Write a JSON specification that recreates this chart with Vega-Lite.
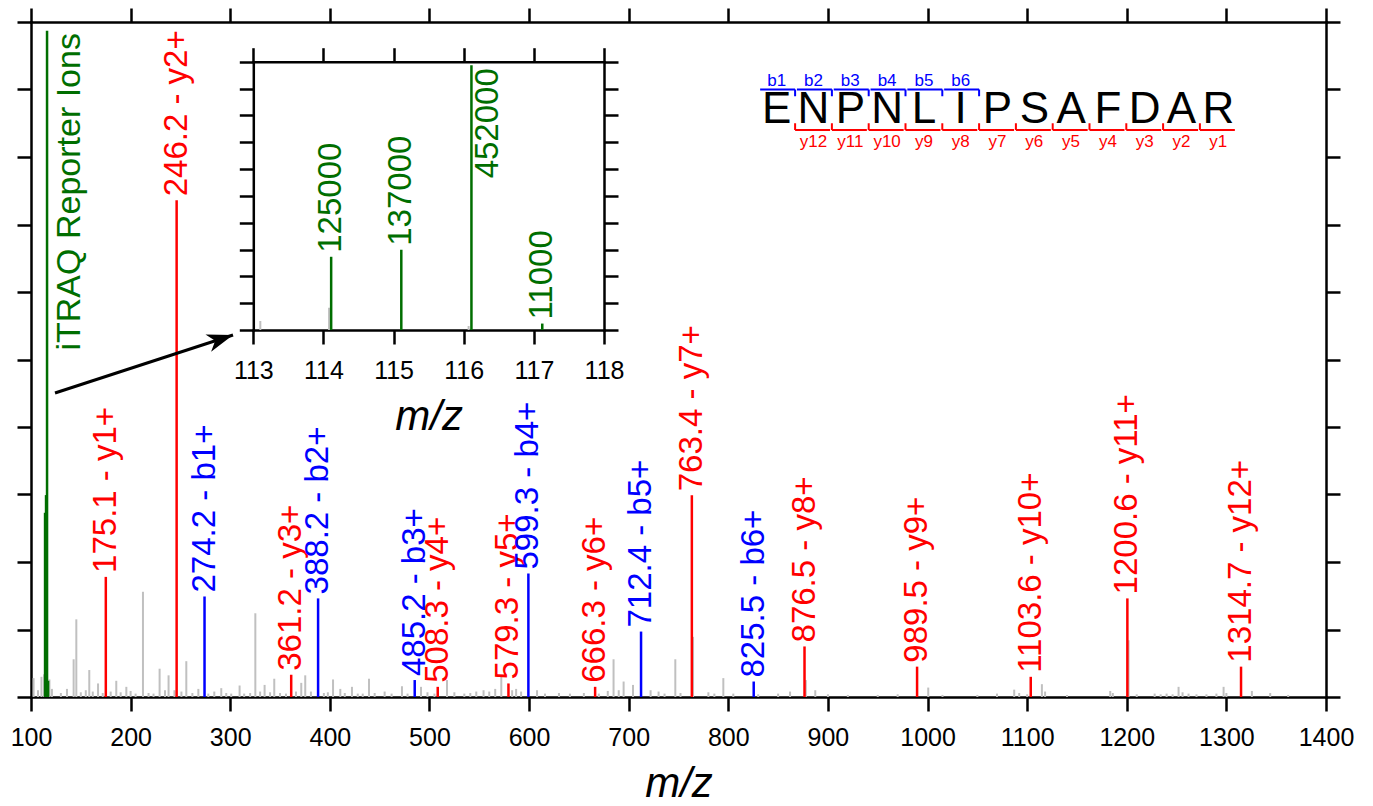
{
  "$schema": "https://vega.github.io/schema/vega-lite/v6.json",
  "width": 1295,
  "height": 675,
  "autosize": {"type": "none"},
  "padding": {"left": 31, "top": 22, "right": 47, "bottom": 109},
  "background": "white",
  "config": {
    "view": {"stroke": null},
    "font": "Liberation Sans",
    "axis": {
      "domainColor": "black", "domainWidth": 2.5, "domainCap": "square",
      "tickColor": "black", "tickWidth": 2.5, "tickSize": 14,
      "labelFont": "Liberation Sans", "labelFontSize": 25, "labelColor": "black", "labelPadding": 14,
      "labelFlush": false, "labelOverlap": false, "grid": false,
      "titleFont": "Liberation Sans", "titleFontSize": 42, "titleFontStyle": "italic", "titleFontWeight": "normal",
      "titleColor": "black", "titlePadding": 13
    },
    "text": {"font": "Liberation Sans"}
  },
  "datasets": {
    "noise": [
      {"mz":102.6,"intensity":12800},{"mz":107,"intensity":4600},{"mz":110.5,"intensity":13700},{"mz":113.1,"intensity":15400},
      {"mz":114.08,"intensity":38000},{"mz":116.07,"intensity":6800},{"mz":118.5,"intensity":11900},{"mz":121,"intensity":5500},
      {"mz":130,"intensity":2700},{"mz":136.1,"intensity":5500},{"mz":142.8,"intensity":25600},{"mz":145.5,"intensity":52700},
      {"mz":150,"intensity":3200},{"mz":155,"intensity":4600},{"mz":158.5,"intensity":18300},{"mz":162,"intensity":3700},
      {"mz":167.3,"intensity":9200},{"mz":172,"intensity":2700},{"mz":180,"intensity":3700},{"mz":185.6,"intensity":11000},
      {"mz":190,"intensity":3200},{"mz":195.7,"intensity":6900},{"mz":200,"intensity":4100},{"mz":205,"intensity":2300},
      {"mz":212.4,"intensity":71400},{"mz":218,"intensity":2700},{"mz":223,"intensity":2300},{"mz":229.1,"intensity":19200},
      {"mz":234.5,"intensity":4600},{"mz":238.1,"intensity":14700},{"mz":244,"intensity":4600},{"mz":251,"intensity":3700},
      {"mz":255.9,"intensity":24300},{"mz":262,"intensity":2700},{"mz":268,"intensity":5500},{"mz":278,"intensity":2300},
      {"mz":284,"intensity":3700},{"mz":291,"intensity":6000},{"mz":296,"intensity":2700},{"mz":301,"intensity":2300},
      {"mz":309.4,"intensity":7800},{"mz":314,"intensity":2300},{"mz":320,"intensity":2700},{"mz":325.2,"intensity":56800},
      {"mz":330,"intensity":3700},{"mz":334.5,"intensity":8200},{"mz":340,"intensity":3200},{"mz":344.2,"intensity":12400},
      {"mz":350,"intensity":2700},{"mz":356,"intensity":2300},{"mz":366,"intensity":3700},{"mz":371.3,"intensity":9600},
      {"mz":375.3,"intensity":14700},{"mz":381,"intensity":3700},{"mz":394,"intensity":2700},{"mz":398,"intensity":3200},
      {"mz":403.2,"intensity":11900},{"mz":410.5,"intensity":5500},{"mz":415,"intensity":2700},{"mz":422.2,"intensity":6900},
      {"mz":428,"intensity":2300},{"mz":433,"intensity":2300},{"mz":439.3,"intensity":12400},{"mz":445,"intensity":2700},
      {"mz":455,"intensity":3700},{"mz":462,"intensity":2300},{"mz":472.4,"intensity":7300},{"mz":478,"intensity":2300},
      {"mz":491.5,"intensity":6900},{"mz":498,"intensity":3200},{"mz":505,"intensity":2300},{"mz":517.6,"intensity":11500},
      {"mz":525,"intensity":3200},{"mz":535,"intensity":2300},{"mz":541,"intensity":2700},{"mz":547,"intensity":3700},
      {"mz":554.3,"intensity":4600},{"mz":560,"intensity":3700},{"mz":566,"intensity":5500},{"mz":572.1,"intensity":14000},
      {"mz":583,"intensity":4600},{"mz":587,"intensity":5500},{"mz":592,"intensity":3700},{"mz":608,"intensity":4600},
      {"mz":616,"intensity":2300},{"mz":630,"intensity":2700},{"mz":641,"intensity":2300},{"mz":655,"intensity":2700},
      {"mz":670,"intensity":2300},{"mz":679,"intensity":4100},{"mz":684.8,"intensity":25600},{"mz":690,"intensity":4600},
      {"mz":694.9,"intensity":10500},{"mz":704.3,"intensity":8200},{"mz":722,"intensity":4600},{"mz":730,"intensity":3700},
      {"mz":736,"intensity":2300},{"mz":746.8,"intensity":25600},{"mz":752,"intensity":2700},{"mz":764.6,"intensity":40800},
      {"mz":780,"intensity":3200},{"mz":786,"intensity":2300},{"mz":795,"intensity":12800},{"mz":805,"intensity":2300},
      {"mz":830,"intensity":1800},{"mz":850,"intensity":2300},{"mz":862,"intensity":3700},{"mz":877.8,"intensity":11500},
      {"mz":887.3,"intensity":4600},{"mz":900,"intensity":1800},{"mz":920,"intensity":1400},{"mz":950,"intensity":1400},
      {"mz":970,"intensity":1800},{"mz":1000.7,"intensity":6400},{"mz":1015,"intensity":1400},{"mz":1050,"intensity":1400},
      {"mz":1069.7,"intensity":2300},{"mz":1087,"intensity":5000},{"mz":1092,"intensity":2700},{"mz":1100,"intensity":1800},
      {"mz":1114.8,"intensity":8700},{"mz":1118,"intensity":3700},{"mz":1140,"intensity":1400},{"mz":1183.4,"intensity":4100},
      {"mz":1186,"intensity":2700},{"mz":1201.8,"intensity":38500},{"mz":1210,"intensity":1800},{"mz":1228,"intensity":2300},
      {"mz":1234,"intensity":1800},{"mz":1240,"intensity":2300},{"mz":1246,"intensity":1800},{"mz":1252,"intensity":6900},
      {"mz":1256,"intensity":3200},{"mz":1262,"intensity":2300},{"mz":1270,"intensity":1800},{"mz":1280,"intensity":1800},
      {"mz":1290,"intensity":2300},{"mz":1297.2,"intensity":6900},{"mz":1300,"intensity":2700},{"mz":1325.6,"intensity":4100},
      {"mz":1344,"intensity":2700},{"mz":1362,"intensity":1400}
    ],
    "fragments": [
      {"mz":175.1,"intensity":81500,"series":"y","label":"175.1 - y1+"},
      {"mz":246.2,"intensity":337000,"series":"y","label":"246.2 - y2+"},
      {"mz":274.2,"intensity":68200,"series":"b","label":"274.2 - b1+"},
      {"mz":361.2,"intensity":15100,"series":"y","label":"361.2 - y3+"},
      {"mz":388.2,"intensity":66900,"series":"b","label":"388.2 - b2+"},
      {"mz":485.2,"intensity":11500,"series":"b","label":"485.2 - b3+"},
      {"mz":508.3,"intensity":6900,"series":"y","label":"508.3 - y4+"},
      {"mz":579.3,"intensity":9200,"series":"y","label":"579.3 - y5+"},
      {"mz":599.3,"intensity":83800,"series":"b","label":"599.3 - b4+"},
      {"mz":666.3,"intensity":6900,"series":"y","label":"666.3 - y6+"},
      {"mz":712.4,"intensity":44400,"series":"b","label":"712.4 - b5+"},
      {"mz":763.4,"intensity":136900,"series":"y","label":"763.4 - y7+"},
      {"mz":825.5,"intensity":10500,"series":"b","label":"825.5 - b6+"},
      {"mz":876.5,"intensity":34300,"series":"y","label":"876.5 - y8+"},
      {"mz":989.5,"intensity":20600,"series":"y","label":"989.5 - y9+"},
      {"mz":1103.6,"intensity":13700,"series":"y","label":"1103.6 - y10+"},
      {"mz":1200.6,"intensity":66900,"series":"y","label":"1200.6 - y11+"},
      {"mz":1314.7,"intensity":20600,"series":"y","label":"1314.7 - y12+"}
    ],
    "reporter": [
      {"mz":114.11,"intensity":125000,"label":"125000"},
      {"mz":115.11,"intensity":137000,"label":"137000"},
      {"mz":116.11,"intensity":452000,"label":"452000"},
      {"mz":117.12,"intensity":11000,"label":"11000"}
    ],
    "annot": [
      {"text":"iTRAQ Reporter Ions","mz":139.2,"intensity":450500}
    ],
    "arrow": [
      {"mz":124.1,"intensity":206300,"mz2":302.8,"intensity2":245600}
    ],
    "sequence": [
      {"pos":1,"aa":"E"},{"pos":2,"aa":"N"},{"pos":3,"aa":"P"},{"pos":4,"aa":"N"},{"pos":5,"aa":"L"},
      {"pos":6,"aa":"I"},{"pos":7,"aa":"P"},{"pos":8,"aa":"S"},{"pos":9,"aa":"A"},{"pos":10,"aa":"F"},
      {"pos":11,"aa":"D"},{"pos":12,"aa":"A"},{"pos":13,"aa":"R"}
    ],
    "brackets": [
      {"ion":"b1","series":"b","pos":1,"from":0.55,"to":1.5},
      {"ion":"b2","series":"b","pos":2,"from":1.55,"to":2.5},
      {"ion":"b3","series":"b","pos":3,"from":2.55,"to":3.5},
      {"ion":"b4","series":"b","pos":4,"from":3.55,"to":4.5},
      {"ion":"b5","series":"b","pos":5,"from":4.55,"to":5.5},
      {"ion":"b6","series":"b","pos":6,"from":5.55,"to":6.5},
      {"ion":"y12","series":"y","pos":2,"from":1.5,"to":2.45},
      {"ion":"y11","series":"y","pos":3,"from":2.5,"to":3.45},
      {"ion":"y10","series":"y","pos":4,"from":3.5,"to":4.45},
      {"ion":"y9","series":"y","pos":5,"from":4.5,"to":5.45},
      {"ion":"y8","series":"y","pos":6,"from":5.5,"to":6.45},
      {"ion":"y7","series":"y","pos":7,"from":6.5,"to":7.45},
      {"ion":"y6","series":"y","pos":8,"from":7.5,"to":8.45},
      {"ion":"y5","series":"y","pos":9,"from":8.5,"to":9.45},
      {"ion":"y4","series":"y","pos":10,"from":9.5,"to":10.45},
      {"ion":"y3","series":"y","pos":11,"from":10.5,"to":11.45},
      {"ion":"y2","series":"y","pos":12,"from":11.5,"to":12.45},
      {"ion":"y1","series":"y","pos":13,"from":12.5,"to":13.45}
    ]
  },
  "layer": [
    {
      "layer": [
        {
          "data": {"name": "noise"},
          "mark": {"type": "rule", "color": "#c0c0c0", "strokeWidth": 2},
          "encoding": {
            "x": {"field": "mz", "type": "quantitative", "scale": {"domain": [100, 1400], "nice": false, "zero": false},
                  "axis": {"orient": "bottom", "values": [100,200,300,400,500,600,700,800,900,1000,1100,1200,1300,1400], "format": "d", "title": "m/z"}},
            "y": {"field": "intensity", "type": "quantitative", "scale": {"domain": [0, 458000], "nice": false},
                  "axis": {"orient": "left", "values": [0,45800,91600,137400,183200,229000,274800,320600,366400,412200,458000], "labels": false, "title": null}},
            "y2": {"datum": 0}
          }
        },
        {
          "data": {"name": "reporter"},
          "mark": {"type": "rule", "color": "#006e00", "strokeWidth": 2.5},
          "encoding": {
            "x": {"field": "mz", "type": "quantitative",
                  "axis": {"orient": "top", "values": [100,200,300,400,500,600,700,800,900,1000,1100,1200,1300,1400], "labels": false, "title": null}},
            "y": {"field": "intensity", "type": "quantitative",
                  "axis": {"orient": "right", "values": [0,45800,91600,137400,183200,229000,274800,320600,366400,412200,458000], "labels": false, "title": null}},
            "y2": {"datum": 0}
          }
        },
        {
          "data": {"name": "fragments"},
          "mark": {"type": "rule", "strokeWidth": 2.5},
          "encoding": {
            "x": {"field": "mz", "type": "quantitative", "axis": null},
            "y": {"field": "intensity", "type": "quantitative", "axis": null},
            "y2": {"datum": 0},
            "color": {"field": "series", "type": "nominal", "scale": {"domain": ["b", "y"], "range": ["#0000ff", "#ff0000"]}, "legend": null}
          }
        },
        {
          "data": {"name": "fragments"},
          "mark": {"type": "text", "angle": 270, "align": "left", "baseline": "middle", "dx": 4, "fontSize": 33},
          "encoding": {
            "x": {"field": "mz", "type": "quantitative", "axis": null},
            "y": {"field": "intensity", "type": "quantitative", "axis": null},
            "text": {"field": "label"},
            "color": {"field": "series", "type": "nominal", "scale": {"domain": ["b", "y"], "range": ["#0000ff", "#ff0000"]}, "legend": null}
          }
        },
        {
          "data": {"name": "annot"},
          "mark": {"type": "text", "angle": 270, "align": "right", "baseline": "middle", "fontSize": 34, "color": "#006e00"},
          "encoding": {
            "x": {"field": "mz", "type": "quantitative", "axis": null},
            "y": {"field": "intensity", "type": "quantitative", "axis": null},
            "text": {"field": "text"}
          }
        },
        {
          "data": {"name": "arrow"},
          "mark": {"type": "rule", "color": "black", "strokeWidth": 3},
          "encoding": {
            "x": {"field": "mz", "type": "quantitative", "axis": null},
            "y": {"field": "intensity", "type": "quantitative", "axis": null},
            "x2": {"field": "mz2"},
            "y2": {"field": "intensity2"}
          }
        },
        {
          "data": {"name": "arrow"},
          "mark": {"type": "point", "shape": "M0,0 L-1,-0.35 L-0.72,0 L-1,0.35 Z", "size": 2704, "angle": 342, "filled": true, "color": "black", "opacity": 1, "strokeWidth": 0},
          "encoding": {
            "x": {"field": "mz2", "type": "quantitative", "axis": null},
            "y": {"field": "intensity2", "type": "quantitative", "axis": null}
          }
        }
      ],
      "resolve": {"axis": {"x": "independent", "y": "independent"}}
    },
    {
      "layer": [
        {
          "data": {"name": "noise"},
          "transform": [{"filter": "datum.mz >= 113 && datum.mz <= 118"}],
          "mark": {"type": "rule", "color": "#c0c0c0", "strokeWidth": 2},
          "encoding": {
            "x": {"field": "mz", "type": "quantitative", "scale": {"domain": [113, 118], "range": [222.3, 573], "nice": false, "zero": false},
                  "axis": {"orient": "bottom", "offset": -367, "values": [113,114,115,116,117,118], "format": "d", "title": "m/z"}},
            "y": {"field": "intensity", "type": "quantitative", "scale": {"domain": [0, 458000], "range": [308, 39.7], "nice": false},
                  "axis": {"orient": "left", "offset": -222.3, "values": [0,45800,91600,137400,183200,229000,274800,320600,366400,412200,458000], "labels": false, "title": null}},
            "y2": {"datum": 0}
          }
        },
        {
          "data": {"name": "reporter"},
          "mark": {"type": "rule", "color": "#006e00", "strokeWidth": 2.5},
          "encoding": {
            "x": {"field": "mz", "type": "quantitative",
                  "axis": {"orient": "top", "offset": -39.7, "values": [113,114,115,116,117,118], "labels": false, "title": null}},
            "y": {"field": "intensity", "type": "quantitative",
                  "axis": {"orient": "right", "offset": -722, "values": [0,45800,91600,137400,183200,229000,274800,320600,366400,412200,458000], "labels": false, "title": null}},
            "y2": {"datum": 0}
          }
        },
        {
          "data": {"name": "reporter"},
          "transform": [{"filter": "datum.intensity != 452000"}],
          "mark": {"type": "text", "angle": 270, "align": "left", "baseline": "middle", "dx": 4, "fontSize": 33, "color": "#006e00"},
          "encoding": {
            "x": {"field": "mz", "type": "quantitative", "axis": null},
            "y": {"field": "intensity", "type": "quantitative", "axis": null},
            "text": {"field": "label"}
          }
        },
        {
          "data": {"name": "reporter"},
          "transform": [{"filter": "datum.intensity == 452000"}],
          "mark": {"type": "text", "angle": 270, "align": "right", "baseline": "middle", "dx": -3, "dy": 17, "fontSize": 33, "color": "#006e00"},
          "encoding": {
            "x": {"field": "mz", "type": "quantitative", "axis": null},
            "y": {"field": "intensity", "type": "quantitative", "axis": null},
            "text": {"field": "label"}
          }
        }
      ],
      "resolve": {"axis": {"x": "independent", "y": "independent"}}
    },
    {
      "layer": [
        {
          "data": {"name": "sequence"},
          "mark": {"type": "text", "fontSize": 44, "align": "center", "baseline": "alphabetic", "color": "black"},
          "encoding": {
            "x": {"field": "pos", "type": "quantitative", "scale": {"domain": [1, 13], "range": [745.7, 1187.3], "nice": false, "zero": false}, "axis": null},
            "y": {"datum": 85, "type": "quantitative", "scale": {"domain": [0, 100], "nice": false}, "axis": null},
            "text": {"field": "aa"}
          }
        },
        {
          "data": {"name": "brackets"},
          "transform": [{"filter": "datum.series == 'b'"}],
          "mark": {"type": "rule", "color": "#0000ff", "strokeWidth": 2},
          "encoding": {
            "x": {"field": "from", "type": "quantitative", "axis": null},
            "x2": {"field": "to"},
            "y": {"datum": 90, "type": "quantitative", "axis": null}
          }
        },
        {
          "data": {"name": "brackets"},
          "transform": [{"filter": "datum.series == 'b'"}],
          "mark": {"type": "rule", "color": "#0000ff", "strokeWidth": 2},
          "encoding": {
            "x": {"field": "to", "type": "quantitative", "axis": null},
            "y": {"datum": 90, "type": "quantitative", "axis": null},
            "y2": {"datum": 89}
          }
        },
        {
          "data": {"name": "brackets"},
          "transform": [{"filter": "datum.series == 'b'"}],
          "mark": {"type": "text", "color": "#0000ff", "fontSize": 17, "align": "center", "baseline": "alphabetic"},
          "encoding": {
            "x": {"field": "pos", "type": "quantitative", "axis": null},
            "y": {"datum": 90.5, "type": "quantitative", "axis": null},
            "text": {"field": "ion"}
          }
        },
        {
          "data": {"name": "brackets"},
          "transform": [{"filter": "datum.series == 'y'"}],
          "mark": {"type": "rule", "color": "#ff0000", "strokeWidth": 2},
          "encoding": {
            "x": {"field": "from", "type": "quantitative", "axis": null},
            "x2": {"field": "to"},
            "y": {"datum": 84, "type": "quantitative", "axis": null}
          }
        },
        {
          "data": {"name": "brackets"},
          "transform": [{"filter": "datum.series == 'y'"}],
          "mark": {"type": "rule", "color": "#ff0000", "strokeWidth": 2},
          "encoding": {
            "x": {"field": "from", "type": "quantitative", "axis": null},
            "y": {"datum": 84, "type": "quantitative", "axis": null},
            "y2": {"datum": 85}
          }
        },
        {
          "data": {"name": "brackets"},
          "transform": [{"filter": "datum.series == 'y'"}],
          "mark": {"type": "text", "color": "#ff0000", "fontSize": 17, "align": "center", "baseline": "alphabetic"},
          "encoding": {
            "x": {"field": "pos", "type": "quantitative", "axis": null},
            "y": {"datum": 81.5, "type": "quantitative", "axis": null},
            "text": {"field": "ion"}
          }
        }
      ]
    }
  ],
  "resolve": {"scale": {"x": "independent", "y": "independent"}}
}
